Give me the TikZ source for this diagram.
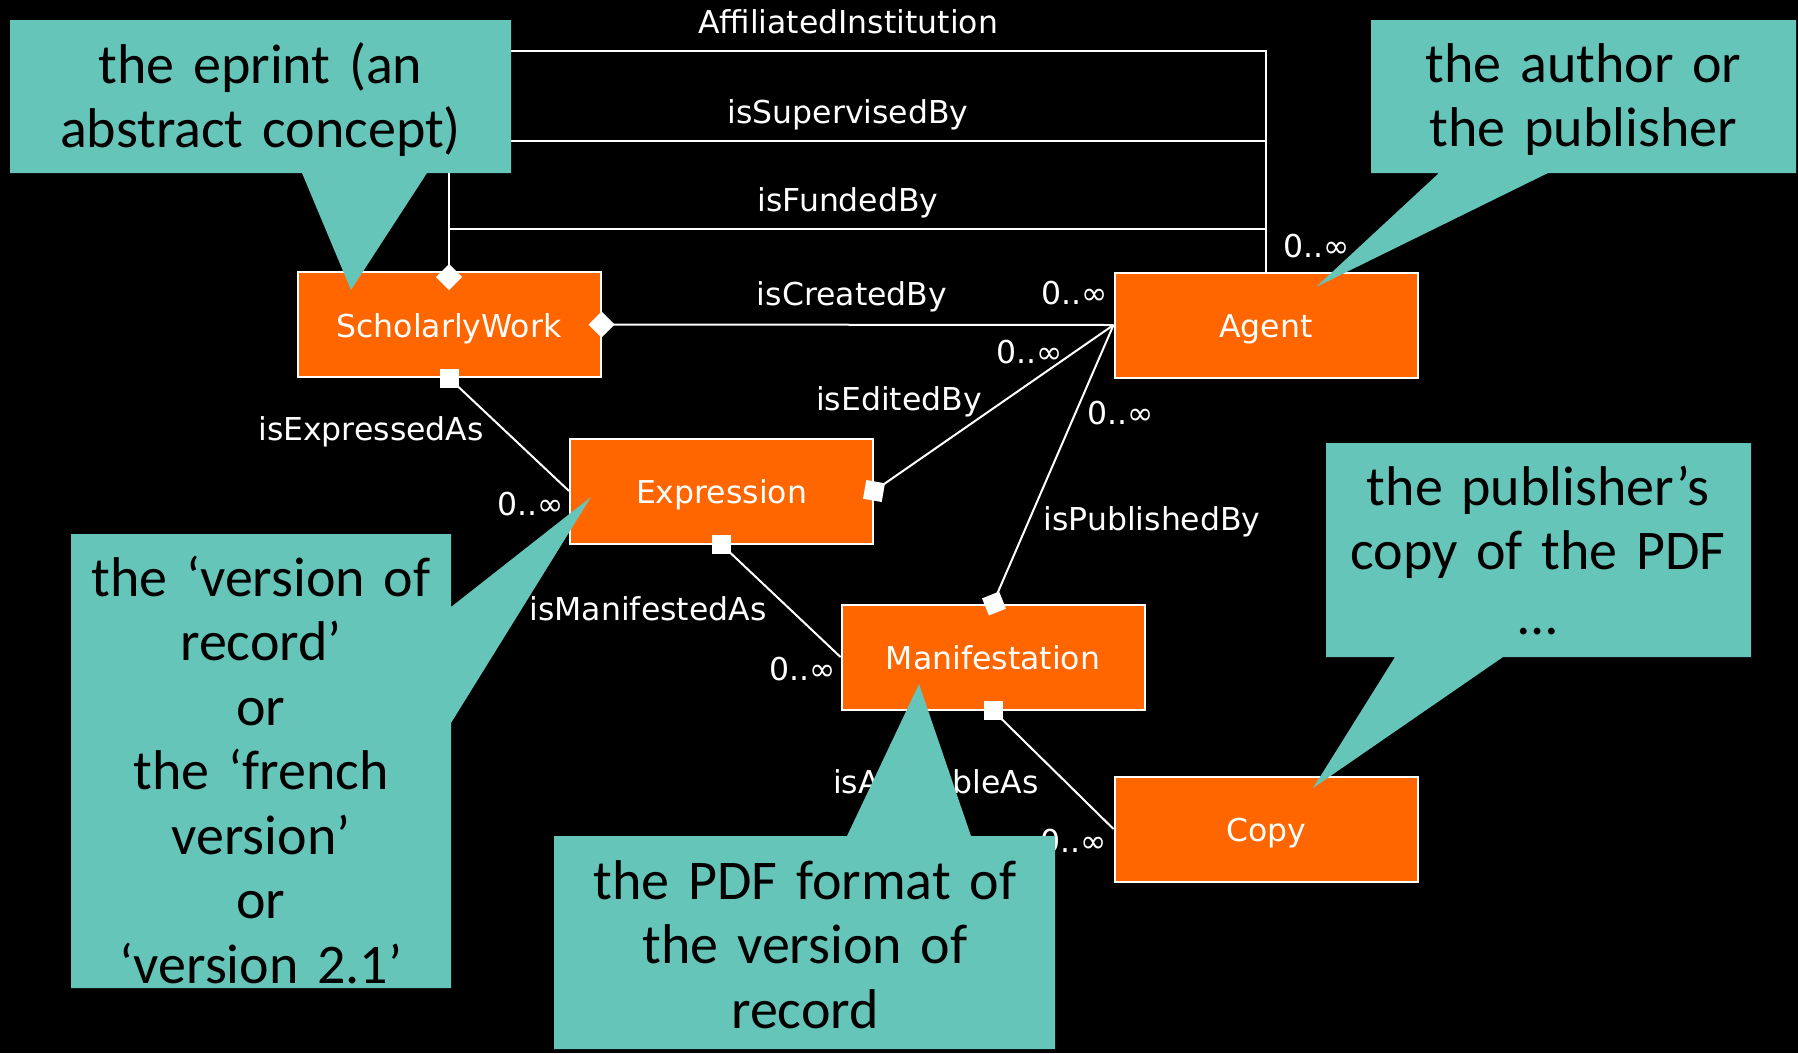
\documentclass[tikz,border=0pt]{standalone}
\usepackage{fontspec}
\setmainfont{DejaVu Sans}
\newfontfamily\notefont{Carlito}
\usetikzlibrary{calc}
\definecolor{boxorange}{HTML}{FF6600}
\definecolor{noteteal}{HTML}{66C5B9}

\begin{document}
\begin{tikzpicture}[x=1pt,y=-1pt,
  classbox/.style={draw=white, line width=2pt, fill=boxorange,
    minimum width=303pt, minimum height=105pt, inner sep=0pt, text=white,
    font=\fontsize{31.5}{36}\selectfont, text height=25pt, text depth=0pt},
  assoc/.style={draw=white, line width=2pt},
  lbl/.style={text=white, font=\fontsize{31.5}{36}\selectfont, anchor=base, inner sep=0pt},
  endsq/.style={fill=white, draw=none, rectangle, minimum size=19pt, inner sep=0pt},
  enddia/.style={fill=white, draw=none, rectangle, minimum size=18.4pt, inner sep=0pt, rotate=45},
  note/.style={fill=noteteal},
  notetext/.style={anchor=base, inner sep=0pt, text=black, text width=500pt, align=center,
    font=\notefont\fontsize{56}{64.5}\selectfont}
]
% canvas
\fill[black] (0,0) rectangle (1798,1053);
\useasboundingbox (0,0) rectangle (1798,1053);

% classes
\node[classbox] (sw)  at (449,324.5) {ScholarlyWork};
\node[classbox] (ag)  at (1266,325)  {Agent};
\node[classbox] (ex)  at (721.5,491) {Expression};
\node[classbox] (man) at (993,657)   {Manifestation};
\node[classbox] (cp)  at (1266,829)  {Copy};

% rails of the three routed associations
\coordinate (railA) at (848,50.5);
\coordinate (railB) at (848,141);
\coordinate (railC) at (848,229);
\draw[assoc] (sw.north) |- (railA) -| (ag.north);
\draw[assoc] (sw.north) |- (railB) -| (ag.north);
\draw[assoc] (sw.north) |- (railC) -| (ag.north);

% straight associations
\draw[assoc] (sw.east) -- (ag.west);
\draw[assoc] (ex.east) -- (ag.west);
\draw[assoc] (man.north) -- (ag.west);
\draw[assoc] (sw.south) -- (ex.west);
\draw[assoc] (ex.south) -- (man.west);
\draw[assoc] (man.south) -- (cp.west);

% association end marks
\node[enddia] (mA) at ($(sw.north)+(0,6)$) {};
\node[enddia] (mB) at (sw.east) {};
\node[endsq]  (mC) at (sw.south) {};
\node[endsq, rotate=-10] (mD) at (ex.east) {};
\node[endsq]  (mE) at (ex.south) {};
\node[endsq, rotate=22, minimum size=18.4pt] (mF) at ($(man.north)+(1,0)$) {};
\node[endsq]  (mG) at (man.south) {};

% association names
\node[lbl] (lAff)  at (848,33)   {AffiliatedInstitution};
\node[lbl] (lSup)  at (848,123)  {isSupervisedBy};
\node[lbl] (lFund) at (848,211)  {isFundedBy};
\node[lbl] (lCre)  at (852,305)  {isCreatedBy};
\node[lbl] (lEd)   at (899,410)  {isEditedBy};
\node[lbl] (lExp)  at (371,440)  {isExpressedAs};
\node[lbl] (lMan)  at (648,620)  {isManifestedAs};
\node[lbl] (lPub)  at (1152,530) {isPublishedBy};
\node[lbl] (lAv)   at (936,793)  {isAvailableAs};

% multiplicities
\node[lbl] (kRail) at (1317,257) {0..∞};
\node[lbl] (kCre)  at (1075,304) {0..∞};
\node[lbl] (kEd)   at (1030,363) {0..∞};
\node[lbl] (kPub)  at (1121,424) {0..∞};
\node[lbl] (kExp)  at (531,515)  {0..∞};
\node[lbl] (kMan)  at (803,680)  {0..∞};
\node[lbl] (kAv)   at (1074,852) {0..∞};

% speech-bubble notes
\fill[note] (10,20) -- (511,20) -- (511,173) -- (427,173) -- (351,290) -- (302,173) -- (10,173) -- cycle;
\node[notetext] (nWork) at (260.5,83) {the eprint (an\\abstract concept)};

\fill[note] (1371,20) -- (1796,20) -- (1796,173) -- (1548,173) -- (1316,287) -- (1439,173) -- (1371,173) -- cycle;
\node[notetext] (nAgent) at (1583.5,82) {the author or\\the publisher};

\fill[note] (71,534) -- (451,534) -- (451,607) -- (591,497) -- (451,723) -- (451,988) -- (71,988) -- cycle;
\node[notetext] (nExpr) at (261,596) {the ‘version of\\record’\\or\\the ‘french\\version’\\or\\‘version 2.1’};

\fill[note] (554,836) -- (847,836) -- (919,684) -- (971,836) -- (1055,836) -- (1055,1049) -- (554,1049) -- cycle;
\node[notetext] (nMan) at (805,899) {the PDF format of\\the version of\\record};

\fill[note] (1326,443) -- (1751,443) -- (1751,657) -- (1503,657) -- (1313,788) -- (1395,657) -- (1326,657) -- cycle;
\node[notetext] (nCopy) at (1538,505) {the publisher’s\\copy of the PDF\\…};
\end{tikzpicture}
\end{document}
